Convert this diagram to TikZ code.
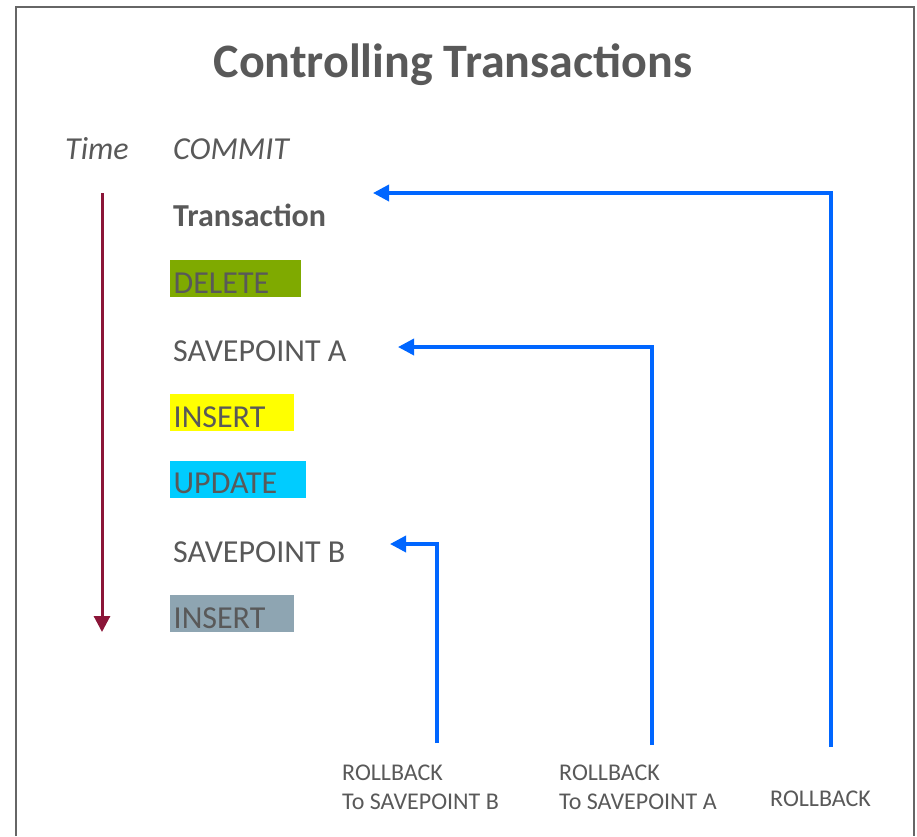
\documentclass[tikz,border=0pt]{standalone}
\usepackage{fontspec}
\setmainfont{Carlito}
\usetikzlibrary{arrows.meta}
\definecolor{txt}{RGB}{89,89,89}
\definecolor{frame}{RGB}{102,102,102}
\definecolor{maroon}{RGB}{139,21,56}
\definecolor{rbblue}{RGB}{0,102,255}
\definecolor{delgreen}{RGB}{127,170,0}
\definecolor{insyellow}{RGB}{255,255,0}
\definecolor{updcyan}{RGB}{0,204,255}
\definecolor{insgray}{RGB}{142,165,178}
\tikzset{
  lbl/.style={inner sep=0pt, anchor=base west, text=txt, font=\fontsize{32}{38}\selectfont},
  opbox/.style={anchor=north west, inner xsep=3.5pt, inner ysep=0pt, text height=33pt, text depth=4pt, align=left, text=txt, font=\fontsize{32}{38}\selectfont},
  rblabel/.style={inner sep=0pt, anchor=base west, align=left, text=txt, font=\fontsize{24}{28.5}\selectfont},
  rbarrow/.style={draw=rbblue, line width=3.5pt, -{Triangle[length=16pt,width=16pt]}},
  timearrow/.style={draw=maroon, line width=3pt, -{Triangle[length=16pt,width=16pt]}}
}
\begin{document}
\begin{tikzpicture}[x=1pt,y=-1pt]
\useasboundingbox (0,0) rectangle (917,836);
\draw[frame, line width=2.2pt] (16,836) -- (16,7) -- (914,7) -- (914,836);
\node[inner sep=0pt, anchor=base, text=txt, font=\bfseries\fontsize{48}{58}\selectfont] (title) at (453,77) {Controlling Transactions};
\node[lbl, font=\itshape\fontsize{32}{38}\selectfont] (time) at (65,159) {Time};
\node[lbl, font=\itshape\fontsize{32}{38}\selectfont] (commit) at (173,159) {COMMIT};
\node[lbl, font=\bfseries\fontsize{32}{38}\selectfont] (trans) at (173,226) {Transaction};
\node[opbox, fill=delgreen, text width=124pt] (delete) at (170,260) {DELETE};
\node[lbl] (spa) at (173,361) {SAVEPOINT A};
\node[opbox, fill=insyellow, text width=117pt] (insert1) at (170,394) {INSERT};
\node[opbox, fill=updcyan, text width=129pt, text height=32pt, text depth=5pt] (update) at (170,461) {UPDATE};
\node[lbl] (spb) at (173,562) {SAVEPOINT B};
\node[opbox, fill=insgray, text width=117pt] (insert2) at (170,595) {INSERT};
\coordinate (ts) at (102,193);
\coordinate (te) at (102,632);
\draw[timearrow] (ts) -- (te);
\coordinate (r1) at (831,747);
\coordinate (t1) at (373,193);
\coordinate (r2) at (652,745);
\coordinate (t2) at (398,347);
\coordinate (r3) at (437,743);
\coordinate (t3) at (390,544);
\draw[rbarrow] (r1) |- (t1);
\draw[rbarrow] (r2) |- (t2);
\draw[rbarrow] (r3) |- (t3);
\node[rblabel] (lb3) at (342,809) {ROLLBACK\\To SAVEPOINT B};
\node[rblabel] (lb2) at (559,809) {ROLLBACK\\To SAVEPOINT A};
\node[rblabel] (lb1) at (770,806) {ROLLBACK};
\end{tikzpicture}
\end{document}
